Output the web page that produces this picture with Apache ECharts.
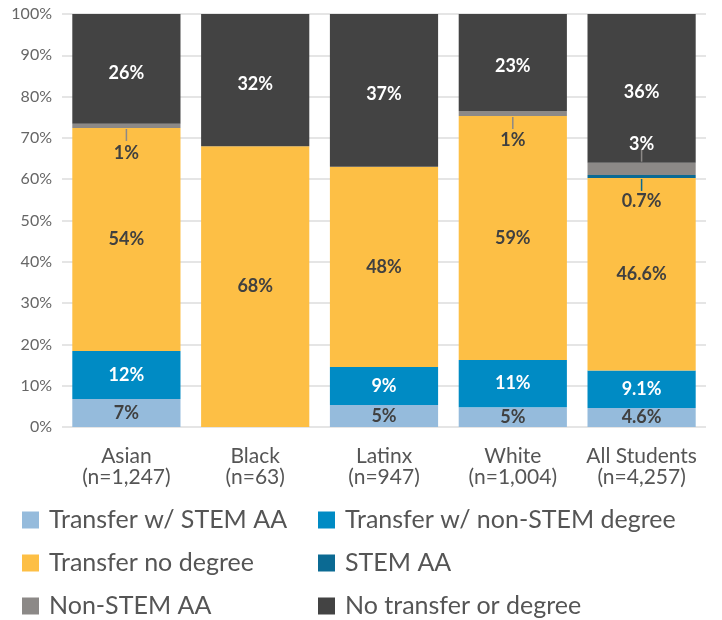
<!DOCTYPE html>
<html>
<head>
<meta charset="utf-8">
<script src="https://cdn.jsdelivr.net/npm/echarts@6/dist/echarts.min.js"></script>
<style>
  html, body { margin: 0; padding: 0; background: #fff; }
  #chart { width: 722px; height: 620px; }
</style>
</head>
<body>
<div id="chart"></div>
<script>
const categories = ['Asian\n(n=1,247)', 'Black\n(n=63)', 'Latinx\n(n=947)', 'White\n(n=1,004)', 'All Students\n(n=4,257)']
const yTicks = ['0%','10%','20%','30%','40%','50%','60%','70%','80%','90%','100%']

// percent values per group
const transferStemAA    = [6.8, 0, 5.3, 4.8, 4.6]
const transferNonStem   = [11.6, 0, 9.2, 11.4, 9.1]
const transferNoDegree  = [54, 68, 48.5, 59.1, 46.6]
const stemAA            = [0, 0, 0, 0, 0.7]
const nonStemAA         = [1, 0, 0, 1.2, 3]
const noTransfer        = [26.6, 32, 37, 23.5, 36]

// printed labels
const lblTransferStemAA   = ['7%', '', '5%', '5%', '4.6%']
const lblTransferNonStem  = ['12%', '', '9%', '11%', '9.1%']
const lblTransferNoDegree = ['54%', '68%', '48%', '59%', '46.6%']
const lblStemAA           = ['', '', '', '', '0.7%']
const lblNonStemAA        = ['1%', '', '', '1%', '3%']
const lblNoTransfer       = ['26%', '32%', '37%', '23%', '36%']

const names = ['Transfer w/ STEM AA', 'Transfer w/ non-STEM degree', 'Transfer no degree', 'STEM AA', 'Non-STEM AA', 'No transfer or degree']
const colors = ['#95bbdc', '#008bc4', '#fdbf45', '#0b6a93', '#8c8987', '#434343']

const stacked = [transferStemAA, transferNonStem, transferNoDegree, stemAA, nonStemAA, noTransfer]

// callouts for thin segments: [series, category, 1 = label below, -1 = label above]
const callouts = [[4, 0, 1], [4, 3, 1], [4, 4, -1], [3, 4, 1]]

const chart = echarts.init(document.getElementById('chart'))

function barSeries(i, labels, labelColor, extra) {
  return Object.assign({
    name: names[i],
    type: 'bar',
    stack: 'total',
    barCategoryGap: '16%',
    itemStyle: { color: colors[i] },
    data: stacked[i],
    label: {
      show: true,
      position: 'inside',
      color: labelColor,
      fontFamily: 'Lato',
      fontWeight: 'bold',
      fontSize: 18,
      formatter: p => labels[p.dataIndex]
    }
  }, extra || {})
}

// leader line from segment edge towards its moved label
const leaderData = callouts.map(c => {
  const s = c[0], idx = c[1], dir = c[2]
  let base = 0
  for (let k = 0; k < s; k++) base += stacked[k][idx]
  const edge = dir > 0 ? base : base + stacked[s][idx]
  return [idx, edge, dir, s]
})

const legendText = { color: '#555', fontFamily: 'Lato', fontSize: 25, lineHeight: 26, padding: [0, 0, 0, 5] }

const option = {
  animation: false,
  color: colors,
  grid: { left: 62, right: 16, top: 14, bottom: 193, containLabel: false },
  xAxis: {
    type: 'category',
    data: categories,
    axisLine: { show: false },
    axisTick: { show: false },
    axisLabel: {
      interval: 0,
      color: '#555',
      fontFamily: 'Lato',
      fontSize: 21,
      lineHeight: 21,
      margin: 19
    }
  },
  yAxis: {
    type: 'value',
    min: 0,
    max: 100,
    interval: 10,
    axisLine: { show: false },
    axisTick: { show: false },
    splitLine: { lineStyle: { color: '#dddddd', width: 1.5 } },
    axisLabel: {
      color: '#666',
      fontFamily: 'Lato',
      fontSize: 16,
      margin: 10,
      formatter: v => yTicks[v / 10]
    }
  },
  legend: [
    {
      orient: 'vertical',
      left: 22,
      top: 507,
      padding: 0,
      icon: 'rect',
      itemWidth: 17,
      itemHeight: 17,
      itemGap: 17,
      data: [names[0], names[2], names[4]],
      textStyle: legendText
    },
    {
      orient: 'vertical',
      left: 318,
      top: 507,
      padding: 0,
      icon: 'rect',
      itemWidth: 17,
      itemHeight: 17,
      itemGap: 17,
      data: [names[1], names[3], names[5]],
      textStyle: legendText
    }
  ],
  series: [
    barSeries(0, lblTransferStemAA, '#404040'),
    barSeries(1, lblTransferNonStem, '#ffffff'),
    barSeries(2, lblTransferNoDegree, '#404040'),
    barSeries(3, lblStemAA, '#404040', {
      labelLayout: p => ({ dy: 25 })
    }),
    barSeries(4, lblNonStemAA, '#404040', {
      labelLayout: p => (p.dataIndex === 4 ? { dy: -25 } : { dy: 27 })
    }),
    barSeries(5, lblNoTransfer, '#ffffff', {
      labelLayout: p => ({ dy: 4 })
    }),
    {
      type: 'custom',
      silent: true,
      z: 5,
      data: leaderData,
      renderItem: (params, api) => {
        const pt = api.coord([api.value(0), api.value(1)])
        const dir = api.value(2)
        const col = colors[api.value(3)]
        return {
          type: 'line',
          shape: { x1: pt[0], y1: pt[1] + dir, x2: pt[0], y2: pt[1] + dir * 13 },
          style: { stroke: col, lineWidth: 1.5 }
        }
      }
    }
  ]
}
// white "3%" label sits on the dark segment
option.series[4].data = nonStemAA.map((v, i) => i === 4 ? { value: v, label: { color: '#ffffff' } } : v)

chart.setOption(option)
</script>
</body>
</html>
